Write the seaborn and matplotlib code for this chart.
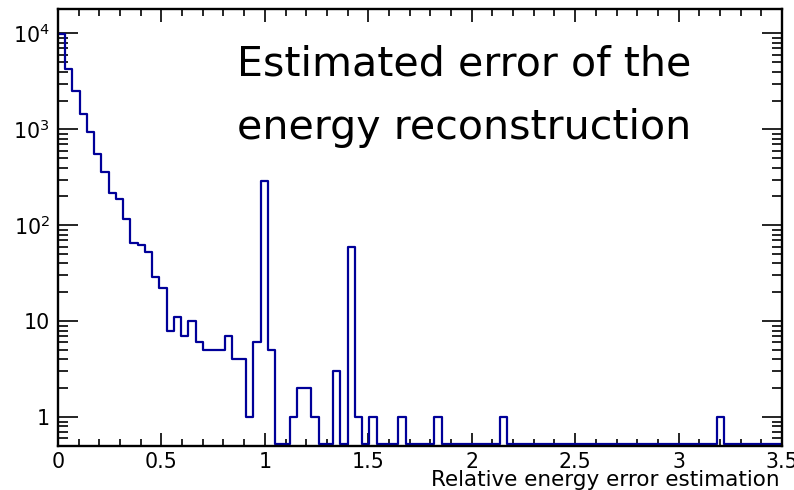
import numpy as np
import pandas as pd
import matplotlib
matplotlib.use("Agg")
import matplotlib.pyplot as plt
import seaborn as sns
from matplotlib.ticker import FixedLocator, FixedFormatter, MultipleLocator, LogLocator, NullFormatter

# ---------------- data ----------------
x_min, x_max, n_bins = 0.0, 3.5, 100
counts = [
    9800, 4300, 2500, 1430, 930, 560, 360, 218, 186, 115,
    65, 63, 53, 29, 22, 8, 11, 7, 10, 6,
    5, 5, 5, 7, 4, 4, 1, 6, 290, 5,
    0, 0, 1, 2, 2, 1, 0, 0, 3, 0,
    60, 1, 0, 1, 0, 0, 0, 1, 0, 0,
    0, 0, 1, 0, 0, 0, 0, 0, 0, 0,
    0, 1, 0, 0, 0, 0, 0, 0, 0, 0,
    0, 0, 0, 0, 0, 0, 0, 0, 0, 0,
    0, 0, 0, 0, 0, 0, 0, 0, 0, 0,
    0, 1, 0, 0, 0, 0, 0, 0, 0, 0,
]
x_tick_values = [0, 0.5, 1, 1.5, 2, 2.5, 3, 3.5]
x_tick_labels = ["0", "0.5", "1", "1.5", "2", "2.5", "3", "3.5"]
y_tick_values = [1, 10, 100, 1000, 10000]
y_tick_labels = ["1", "10", r"$\mathregular{10^{2}}$", r"$\mathregular{10^{3}}$", r"$\mathregular{10^{4}}$"]
title_lines = ["Estimated error of the", "energy reconstruction"]
x_label = "Relative energy error estimation"

# ---------------- style ----------------
sns.set_theme(style="ticks")
plt.rcParams["font.family"] = ["DejaVu Sans"]
plt.rcParams["mathtext.fontset"] = "dejavusans"

W, H = 794, 490
fig = plt.figure(figsize=(W / 100, H / 100), dpi=100)
ax_left, ax_right, ax_top, ax_bottom = 58, 782, 9, 446
ax = fig.add_axes([ax_left / W, 1 - ax_bottom / H, (ax_right - ax_left) / W, (ax_bottom - ax_top) / H])

y_min, y_max = 0.5, 18000
y_floor = 0.52  # ROOT draws empty bins at the frame minimum

edges = np.linspace(x_min, x_max, n_bins + 1)
centers = 0.5 * (edges[:-1] + edges[1:])
df = pd.DataFrame({"x": centers, "w": np.clip(np.asarray(counts, float), y_floor, None)})

sns.histplot(data=df, x="x", weights="w", bins=n_bins, binrange=(x_min, x_max),
             element="step", fill=False, color="#000099", linewidth=1.6, ax=ax)
ax.set_yscale("log")
ax.set_xlim(x_min, x_max)
ax.set_ylim(y_min, y_max)

# ticks
ax.xaxis.set_major_locator(FixedLocator(x_tick_values))
ax.xaxis.set_major_formatter(FixedFormatter(x_tick_labels))
ax.xaxis.set_minor_locator(MultipleLocator(0.1))
ax.yaxis.set_major_locator(FixedLocator(y_tick_values))
ax.yaxis.set_major_formatter(FixedFormatter(y_tick_labels))
ax.yaxis.set_minor_locator(LogLocator(base=10, subs=np.arange(2, 10), numticks=20))
ax.yaxis.set_minor_formatter(NullFormatter())

ax.tick_params(axis="both", which="both", direction="in", top=True, right=True,
               colors="black", width=1.2, labelsize=14.8)
ax.tick_params(axis="x", which="major", length=9.4, pad=4.5)
ax.tick_params(axis="x", which="minor", length=5)
ax.tick_params(axis="y", which="major", length=14.4, pad=6)
ax.tick_params(axis="y", which="minor", length=7.2)

for s in ax.spines.values():
    s.set_visible(True)
    s.set_color("black")
    s.set_linewidth(1.7)

ax.set_ylabel("")
ax.set_xlabel(x_label, fontsize=15.5, ha="right", va="baseline", color="black")
ax.xaxis.set_label_coords((780 - ax_left) / (ax_right - ax_left), -(486 - ax_bottom) / (ax_bottom - ax_top))

# title text
fig.text(237 / W, 1 - 75 / H, title_lines[0], fontsize=29.6, ha="left", va="baseline", color="black")
fig.text(237 / W, 1 - 139 / H, title_lines[1], fontsize=29.6, ha="left", va="baseline", color="black")

fig.savefig("out.png", dpi=100)
